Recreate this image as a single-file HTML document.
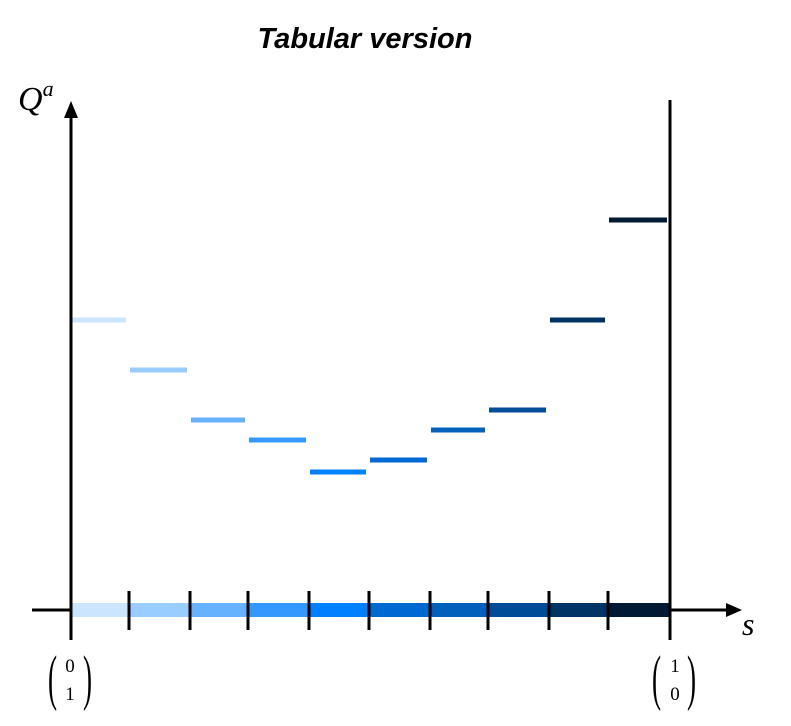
<!DOCTYPE html>
<html><head><meta charset="utf-8"><style>
body{margin:0;background:#fff}
svg{display:block}
text{font-family:"Liberation Serif",serif}
</style></head><body>
<svg id="chart" width="791" height="726" viewBox="0 0 791 726">
<text x="365" y="48" text-anchor="middle" style="font-family:'Liberation Sans',sans-serif;font-weight:bold;font-style:italic;font-size:29px">Tabular version</text>
<line x1="32" y1="610" x2="730" y2="610" stroke="#000" stroke-width="3"/>
<polygon points="742,610 726,603 726,617" fill="#000"/>
<g id="bars"></g>
<g id="steps"></g>
<line x1="71" y1="640" x2="71" y2="115" stroke="#000" stroke-width="3"/>
<polygon points="71,101 64,118 78,118" fill="#000"/>
<line x1="670" y1="100" x2="670" y2="640" stroke="#000" stroke-width="3"/>
<g id="ticks"></g>
<text x="18" y="110" style="font-style:italic;font-size:34px">Q<tspan dy="-14" font-size="22">a</tspan></text>
<text x="742" y="635" style="font-style:italic;font-size:32px">s</text>
<g>
<text transform="translate(48,698) scale(0.8,1.8)" font-size="34">(</text>
<text x="70" y="672" font-size="19" text-anchor="middle">0</text>
<text x="70" y="700" font-size="19" text-anchor="middle">1</text>
<text transform="translate(83,698) scale(0.8,1.8)" font-size="34">)</text>
</g>
<g>
<text transform="translate(652,698) scale(0.8,1.8)" font-size="34">(</text>
<text x="675" y="672" font-size="19" text-anchor="middle">1</text>
<text x="675" y="700" font-size="19" text-anchor="middle">0</text>
<text transform="translate(687,698) scale(0.8,1.8)" font-size="34">)</text>
</g>
</svg>
<script>
const ns="http://www.w3.org/2000/svg";
const boundaries=[0,1,2,3,4,5,6,7,8,9,10];
const qValues=[2.9,2.4,1.9,1.7,1.38,1.5,1.8,2.0,2.9,3.9];
const colors=["#cce5ff","#99ccff","#66b2ff","#3399ff","#007fff","#0068d2","#0060bc","#004c99","#003366","#001a33"];
const tickPx=[71,129,190,248,309,369,430,488,549,608,670];
function xs(i){return tickPx[i];}
function ys(v){return 610-v*100;}
const bars=document.getElementById('bars'),steps=document.getElementById('steps'),ticks=document.getElementById('ticks');
qValues.forEach((v,i)=>{
 const r=document.createElementNS(ns,'rect');
 r.setAttribute('x',xs(i));r.setAttribute('y',603);r.setAttribute('width',xs(i+1)-xs(i));r.setAttribute('height',14);r.setAttribute('fill',colors[i]);
 
 
 bars.appendChild(r);
 const l=document.createElementNS(ns,'line');
 l.setAttribute('x1',xs(i)+1);l.setAttribute('x2',xs(i+1)-3);l.setAttribute('y1',ys(v));l.setAttribute('y2',ys(v));
 l.setAttribute('stroke',colors[i]);l.setAttribute('stroke-width',5);
 
 
 steps.appendChild(l);
});
boundaries.slice(1,-1).forEach(b=>{
 const t=document.createElementNS(ns,'line');
 t.setAttribute('x1',xs(b));t.setAttribute('x2',xs(b));t.setAttribute('y1',591);t.setAttribute('y2',630);
 t.setAttribute('stroke','#000');t.setAttribute('stroke-width',3);
 
 
 ticks.appendChild(t);
});
</script>
</body></html>
